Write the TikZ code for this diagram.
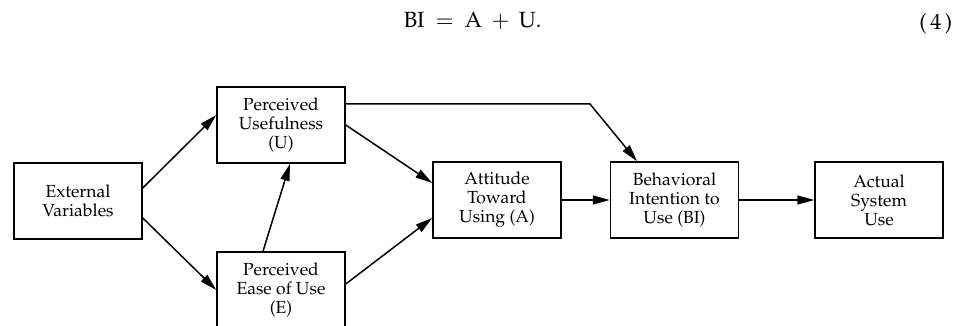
\documentclass[tikz,border=0pt]{standalone}
\usepackage[T1]{fontenc}
\usepackage{mathpazo}
\usepackage{tikz}
\usetikzlibrary{arrows.meta}

\begin{document}
\begin{tikzpicture}[x=1pt, y=-1pt, line width=1.5pt, >={Triangle[length=17pt,width=9pt]},
    box/.style={draw, minimum width=128pt, minimum height=76pt, align=center, inner sep=2pt, font=\fontsize{17.5}{19}\selectfont}]
        \useasboundingbox (0,0) rectangle (960,326);
        \clip (0,0) rectangle (960,326);
        \node[anchor=base west, inner sep=0, font=\fontsize{22}{26}\selectfont] (eq) at (403,28) {\(\mathrm{BI}\mkern4mu = \mkern4mu\mathrm{A}\mkern4mu + \mkern4mu\mathrm{U}.\)};
        \node[anchor=base east, inner sep=0, font=\fontsize{22}{26}\selectfont] (eqno) at (953,30) {(\,4\,)};
        \node[box] (ev) at (78,201) {External\\Variables};
        \node[box] (pu) at (281,125) {Perceived\\Usefulness\\(U)};
        \node[box] (pe) at (281,290) {Perceived\\Ease of Use\\(E)};
        \node[box] (at) at (497,200) {Attitude\\Toward\\Using (A)};
        \node[box] (bi) at (674.5,200) {Behavioral\\Intention to\\Use (BI)};
        \node[box] (as) at (879,200) {Actual\\System\\Use};
        \draw[->] ([yshift=13pt]ev.east) -- ([yshift=10pt]pu.west);
        \draw[->] ([yshift=-17pt]ev.east) -- (pe.west);
        \draw[->] ([xshift=-18pt]pe.north) -- ([xshift=9pt]pu.south);
        \draw[->] (pu.east) -- ([yshift=17pt]at.west);
        \draw[->] ([yshift=6pt]pe.east) -- ([yshift=-18pt]at.west);
        \draw[->] ([yshift=21pt]pu.east) -- (590,104) -- ([xshift=-37.5pt]bi.north);
        \draw[->] (at.east) -- (bi.west);
        \draw[->] (bi.east) -- (as.west);
      \end{tikzpicture}
\end{document}
